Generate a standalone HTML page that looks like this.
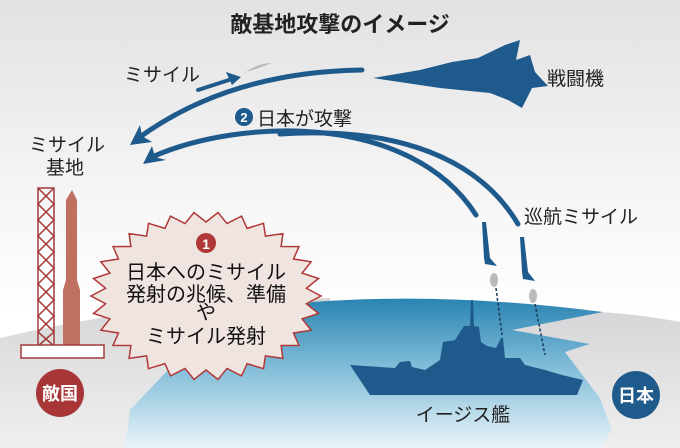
<!DOCTYPE html>
<html><head><meta charset="utf-8"><style>
html,body{margin:0;padding:0;background:#fff;}
svg{display:block;}
text{font-family:"Liberation Sans","Noto Sans CJK JP",sans-serif;}
</style></head><body>
<svg width="680" height="448" viewBox="0 0 680 448" xmlns="http://www.w3.org/2000/svg">
<defs>
<linearGradient id="sky" x1="0" y1="0" x2="0" y2="1">
<stop offset="0" stop-color="#e2e2e4"/><stop offset="0.45" stop-color="#f6f6f6"/><stop offset="0.7" stop-color="#ffffff"/></linearGradient>
<linearGradient id="sea" x1="0" y1="0" x2="0" y2="1">
<stop offset="0" stop-color="#2a84b2"/><stop offset="0.45" stop-color="#7fbcd8"/><stop offset="1" stop-color="#e8f3f8"/></linearGradient>
<linearGradient id="land" x1="0" y1="0" x2="0" y2="1">
<stop offset="0" stop-color="#d6d6d8"/><stop offset="1" stop-color="#efefef"/></linearGradient>
</defs>
<rect width="680" height="448" fill="url(#sky)"/>
<path d="M0,338 Q160,300 330,298 L330,448 L0,448Z" fill="url(#land)"/>
<path d="M560,310 Q630,312 680,322 L680,448 L600,448 L612,430 L600,398 L565,352 L590,344 L512,330Z" fill="url(#land)"/>
<path d="M125,448 L130,410 L168,370 L250,330 L312,302 Q450,292 603,312 L512,330 L590,344 L565,352 L600,398 L612,430 L600,448Z" fill="url(#sea)"/>
<text x="340" y="32" font-size="22" font-weight="bold" text-anchor="middle" fill="#222">敵基地攻撃のイメージ</text>
<text x="124" y="81" font-size="19" fill="#222">ミサイル</text>
<text x="547" y="85" font-size="19" fill="#222">戦闘機</text>
<text x="67" y="151" font-size="19" fill="#222" text-anchor="middle">ミサイル</text>
<text x="65" y="174" font-size="19" fill="#222" text-anchor="middle">基地</text>
<text x="524" y="223" font-size="19" fill="#222">巡航ミサイル</text>
<text x="463" y="421" font-size="19" fill="#222" text-anchor="middle">イージス艦</text>
<circle cx="244" cy="117" r="9" fill="#1f5a8c"/>
<text x="244" y="122" font-size="13" font-weight="bold" fill="#fff" text-anchor="middle">2</text>
<text x="257" y="125" font-size="19" fill="#222">日本が攻撃</text>
<path d="M198,90 L232,79" stroke="#1f5a8c" stroke-width="4" stroke-linecap="round"/>
<path d="M226,72 L241,77 L232,85Z" fill="#1f5a8c"/>
<path d="M246,72 Q258,63 272,63 Q260,68 246,72Z" fill="#bbb"/>
<path d="M373,78 L420,70 L452,62 L478,58 L505,45 L520,40 L516,60 L530,55 L535,72 L548,86 L532,88 L522,108 L508,100 L490,93 L440,88 Z" fill="#1f5a8c"/>
<path d="M362,70 Q230,72 140,137" fill="none" stroke="#1f5a8c" stroke-width="5" stroke-linecap="round"/>
<path d="M130,145 L140,125 L142,136 L152,142Z" fill="#1f5a8c"/>
<path d="M152,157 C240,118 410,112 476,215" fill="none" stroke="#1f5a8c" stroke-width="5" stroke-linecap="round"/>
<path d="M280,134 C400,126 480,160 518,224" fill="none" stroke="#1f5a8c" stroke-width="5" stroke-linecap="round"/>
<path d="M143,164 L152,146 L155,157 L166,160Z" fill="#1f5a8c"/>
<path d="M482,222 L486,222 L490,258 L497,266 L485,264 L484,258Z" fill="#1f5a8c"/>
<path d="M520,237 L524,237 L528,272 L535,281 L523,279 L522,272Z" fill="#1f5a8c"/>
<ellipse cx="494" cy="280" rx="4" ry="7" fill="#bbb"/>
<ellipse cx="533" cy="296" rx="4" ry="7" fill="#bbb"/>
<path d="M496,288 L502,335" stroke="#1a3a5a" stroke-width="1.5" stroke-dasharray="3,2"/>
<path d="M535,304 L545,355" stroke="#1a3a5a" stroke-width="1.5" stroke-dasharray="3,2"/>
<path d="M350,365 L395,368 L400,362 L410,361 L412,367 L425,370 L440,360 L443,342 L455,340 L460,332 L464,326 L470,326 L471,300 L473,300 L474,326 L479,327 L481,342 L487,346 L496,348 L501,338 L503,338 L505,358 L520,358 L525,365 L545,370 L562,375 L583,380 L577,395 L370,395Z" fill="#1f5a8c"/>
<g stroke="#a33a3a" stroke-width="1.5" fill="none">
<rect x="38" y="188" width="16" height="158"/>
<path d="M38,188 L54,204 L38,220 L54,236 L38,252 L54,268 L38,284 L54,300 L38,316 L54,332 L38,346 M54,188 L38,204 L54,220 L38,236 L54,252 L38,268 L54,284 L38,300 L54,316 L38,332 L54,346"/>
</g>
<path d="M72,190 L77,200 L77,280 L80,290 L80,345 L63,345 L63,290 L66,280 L66,200Z" fill="#c07060"/>
<rect x="21" y="345" width="83" height="13" fill="#fff" stroke="#a33a3a" stroke-width="1.5"/>
<polygon fill="#f0e4e0" stroke="#b03838" stroke-width="1.5" points="321,296 306.4,303.7 318.5,313.5 302.1,318.9 311.1,330.2 293.5,333 299,345.4 281.1,345.5 282.9,358.4 265.4,355.9 263.5,368.7 247.1,363.6 241.5,375.9 227,368.4 218,379.5 206,370 194,379.5 185,368.4 170.5,375.9 164.9,363.6 148.5,368.7 146.6,355.9 129.1,358.4 130.9,345.5 113,345.4 118.5,333 100.9,330.2 109.9,318.9 93.5,313.5 105.6,303.7 91,296 105.6,288.3 93.5,278.5 109.9,273.1 100.9,261.8 118.5,259 113,246.6 130.9,246.5 129.1,233.6 146.6,236.1 148.5,223.3 164.9,228.4 170.5,216.1 185,223.6 194,212.5 206,222 218,212.5 227,223.6 241.5,216.1 247.1,228.4 263.5,223.3 265.4,236.1 282.9,233.6 281.1,246.5 299,246.6 293.5,259 311.1,261.8 302.1,273.1 318.5,278.5 306.4,288.3"/>
<circle cx="206" cy="243" r="10" fill="#b03838"/>
<text x="206" y="249" font-size="14" font-weight="bold" fill="#fff" text-anchor="middle">1</text>
<g font-size="20" fill="#111" text-anchor="middle">
<text x="206" y="279">日本へのミサイル</text>
<text x="206" y="301">発射の兆候、準備</text>
<text x="206" y="319">や</text>
<text x="206" y="343">ミサイル発射</text>
</g>
<circle cx="60" cy="393" r="24" fill="#a83636"/>
<text x="60" y="400" font-size="18" font-weight="bold" fill="#fff" text-anchor="middle">敵国</text>
<circle cx="636" cy="395" r="24" fill="#1f5a8c"/>
<text x="636" y="402" font-size="18" font-weight="bold" fill="#fff" text-anchor="middle">日本</text>
</svg>
</body></html>
